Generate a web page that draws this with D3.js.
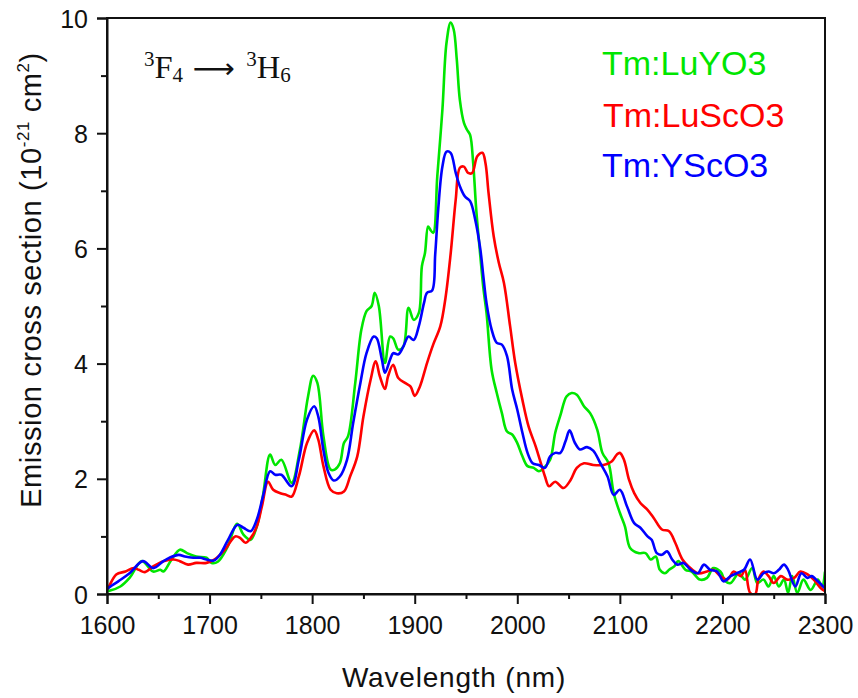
<!DOCTYPE html>
<html><head><meta charset="utf-8">
<script src="https://cdn.jsdelivr.net/npm/d3@7"></script>
<style>html,body{margin:0;padding:0;background:#fff;}</style>
</head><body>
<svg id="chart" width="858" height="698"></svg>
<script>
// ---- data ----
const luyo3X = [1600,1601,1613,1622,1634,1645,1652,1655,1663,1671,1678,1687,1697,1702,1708,1717,1727,1733,1740,1746,1752,1759,1764,1770,1780,1788,1796,1801,1805,1811,1818,1822,1827,1831,1835,1842,1848,1853,1858,1861,1865,1871,1876,1879,1884,1889,1894,1899,1904,1907,1910,1913,1915,1918,1922,1927,1931,1935,1938,1941,1944,1948,1951,1954,1957,1960,1964,1967,1970,1975,1980,1985,1990,1995,2000,2005,2010,2016,2021,2026,2032,2037,2042,2048,2053,2058,2065,2071,2078,2083,2089,2094,2100,2105,2110,2118,2125,2130,2135,2139,2144,2148,2153,2157,2164,2170,2178,2185,2191,2198,2203,2208,2216,2222,2229,2234,2240,2245,2250,2255,2260,2264,2268,2273,2279,2286,2293,2297,2300];
const luyo3Y = [0.05,0.05,0.13,0.28,0.57,0.39,0.42,0.39,0.6,0.77,0.71,0.65,0.63,0.54,0.56,0.8,1.22,1.03,0.94,1.17,1.7,2.42,2.24,2.33,1.93,2.5,3.43,3.79,3.67,2.74,2.16,2.16,2.27,2.62,2.74,3.66,4.59,4.91,5.0,5.23,5.0,4.01,4.47,4.44,4.24,4.3,4.97,4.76,4.88,5.69,5.92,6.38,6.33,6.27,7.25,8.41,9.57,9.92,9.8,9.28,8.58,8.18,8.06,7.97,7.48,6.67,5.86,5.3,4.88,3.89,3.49,3.14,2.82,2.77,2.62,2.39,2.22,2.19,2.13,2.19,2.33,2.8,3.1,3.43,3.49,3.46,3.26,3.14,2.85,2.45,2.27,1.75,1.41,1.17,0.8,0.71,0.71,0.6,0.65,0.42,0.36,0.42,0.48,0.57,0.42,0.39,0.25,0.28,0.45,0.39,0.22,0.19,0.36,0.25,0.45,0.19,0.25,0.13,0.31,0.13,0.25,0.02,0.31,0.02,0.25,0.07,0.25,0.13,0.39];

const luscoX = [1600,1601,1609,1618,1626,1631,1637,1645,1655,1665,1671,1679,1687,1697,1705,1715,1725,1730,1735,1740,1746,1751,1757,1762,1769,1775,1780,1787,1795,1802,1806,1811,1818,1824,1831,1837,1844,1850,1857,1862,1866,1871,1874,1879,1884,1891,1896,1900,1905,1912,1918,1925,1930,1935,1940,1944,1948,1952,1956,1961,1966,1969,1972,1977,1982,1987,1993,1998,2005,2011,2018,2022,2027,2031,2037,2045,2052,2058,2065,2074,2084,2092,2097,2100,2104,2109,2114,2120,2127,2133,2141,2148,2154,2161,2167,2176,2185,2191,2198,2205,2211,2218,2222,2227,2232,2235,2240,2245,2250,2257,2263,2270,2276,2283,2289,2296,2300];
const luscoY = [0.08,0.1,0.34,0.39,0.45,0.42,0.38,0.48,0.57,0.6,0.57,0.51,0.54,0.54,0.6,0.77,1.0,0.97,0.89,0.97,1.17,1.52,1.95,1.81,1.75,1.72,1.69,2.04,2.62,2.84,2.68,2.22,1.81,1.75,1.78,2.04,2.39,3.08,3.72,4.04,3.78,3.56,3.78,3.98,3.75,3.66,3.6,3.44,3.6,4.01,4.33,4.65,5.14,5.9,6.85,7.4,7.42,7.31,7.31,7.6,7.66,7.48,6.96,6.21,5.75,5.4,4.65,4.01,3.37,2.91,2.56,2.33,2.04,1.87,1.95,1.84,1.98,2.19,2.27,2.24,2.24,2.3,2.42,2.45,2.33,1.98,1.75,1.58,1.46,1.32,1.12,1.09,0.89,0.6,0.48,0.36,0.39,0.42,0.31,0.25,0.39,0.31,0.42,0.02,0.0,0.25,0.39,0.31,0.19,0.31,0.25,0.28,0.39,0.34,0.25,0.1,0.05];

const yscoX = [1600,1601,1611,1622,1635,1645,1655,1661,1670,1676,1684,1691,1697,1704,1710,1718,1727,1733,1740,1746,1752,1759,1764,1770,1780,1787,1795,1802,1806,1811,1816,1821,1827,1834,1840,1847,1853,1860,1863,1868,1871,1876,1879,1884,1889,1894,1899,1904,1909,1912,1917,1920,1923,1927,1931,1935,1940,1944,1949,1954,1959,1964,1967,1970,1975,1980,1985,1990,1995,2000,2005,2010,2015,2021,2027,2032,2037,2042,2047,2051,2056,2061,2068,2074,2081,2088,2094,2100,2107,2114,2120,2127,2131,2136,2141,2146,2151,2156,2162,2169,2176,2182,2188,2195,2201,2208,2214,2221,2227,2234,2240,2245,2250,2255,2260,2264,2271,2277,2283,2287,2293,2300];
const yscoY = [0.08,0.1,0.22,0.36,0.57,0.45,0.57,0.63,0.68,0.65,0.63,0.63,0.6,0.58,0.68,0.94,1.2,1.15,1.09,1.29,1.69,2.13,2.07,2.07,1.87,2.33,3.03,3.26,3.08,2.5,2.1,1.97,2.04,2.33,2.97,3.66,4.18,4.47,4.44,4.07,3.84,4.07,4.18,4.16,4.3,4.47,4.41,4.65,5.05,5.23,5.27,5.9,6.7,7.42,7.68,7.66,7.31,7.08,6.9,6.82,6.5,5.98,5.5,5.05,4.59,4.36,4.33,4.13,3.55,3.2,2.8,2.45,2.27,2.24,2.19,2.39,2.45,2.45,2.65,2.84,2.63,2.51,2.55,2.49,2.27,2.04,1.72,1.81,1.52,1.23,1.15,1.0,0.94,0.71,0.68,0.74,0.6,0.51,0.54,0.42,0.36,0.51,0.42,0.39,0.22,0.31,0.36,0.42,0.6,0.25,0.36,0.39,0.36,0.42,0.51,0.42,0.13,0.36,0.28,0.31,0.22,0.1];

const seriesNames = ["Tm:LuYO3","Tm:LuScO3","Tm:YScO3"];
const seriesColors = ["#00e600","#ff0000","#0000ff"];
const xTicks = [1600,1700,1800,1900,2000,2100,2200,2300];
const yTicks = [0,2,4,6,8,10];

// ---- layout ----
const svg = d3.select("#chart");
const L = 107, R = 825, T = 18, B = 594;
const x = d3.scaleLinear().domain([1600,2300]).range([L,R]);
const y = d3.scaleLinear().domain([0,10]).range([B,T]);

svg.append("defs").append("clipPath").attr("id","clip")
  .append("rect").attr("x",L).attr("y",T).attr("width",R-L).attr("height",B-T+1);

const series = [
  {name:seriesNames[0], color:seriesColors[0], xs:luyo3X, ys:luyo3Y},
  {name:seriesNames[1], color:seriesColors[1], xs:luscoX, ys:luscoY},
  {name:seriesNames[2], color:seriesColors[2], xs:yscoX, ys:yscoY}
];
const line = d3.line().x(d=>x(d[0])).y(d=>y(d[1])).curve(d3.curveCatmullRom.alpha(0.5));
const g = svg.append("g").attr("clip-path","url(#clip)");
series.forEach(s=>{
  g.append("path").datum(s.xs.map((v,i)=>[v,s.ys[i]]))
    .attr("fill","none").attr("stroke",s.color).attr("stroke-width",2.6)
    .attr("stroke-linejoin","round").attr("d",line);
});

// frame
svg.append("rect").attr("x",L).attr("y",T).attr("width",R-L).attr("height",B-T)
  .attr("fill","none").attr("stroke","#111").attr("stroke-width",2);

// axes
const fontSans = "'Liberation Sans', Arial, sans-serif";
svg.append("g").attr("transform",`translate(0,${B})`)
  .call(d3.axisBottom(x).tickValues(xTicks).tickSize(10).tickPadding(12).tickFormat(d3.format("d")));
svg.append("g").attr("transform",`translate(0,${B})`)
  .call(d3.axisBottom(x).tickValues(d3.range(1650,2300,100)).tickSize(5).tickFormat(""))
  .select(".domain").remove();
const yAxis = svg.append("g").attr("transform",`translate(${L},0)`)
  .call(d3.axisLeft(y).tickValues(yTicks).tickSize(10).tickPadding(9).tickFormat(d3.format("d")));
svg.append("g").attr("transform",`translate(${L},0)`)
  .call(d3.axisLeft(y).tickValues([1,3,5,7,9]).tickSize(6).tickFormat(""))
  .select(".domain").remove();
svg.selectAll(".domain").attr("stroke","#111").attr("stroke-width",2);
svg.selectAll(".tick line").attr("stroke","#111").attr("stroke-width",2);
svg.selectAll(".tick text").attr("font-family",fontSans).attr("font-size",25).attr("fill","#111");
yAxis.selectAll(".tick text").attr("dy","0.36em");

// axis titles
svg.append("text").attr("x",454).attr("y",687).attr("text-anchor","middle")
  .attr("font-family",fontSans).attr("font-size",28).attr("letter-spacing",0.8).attr("fill","#111")
  .text("Wavelength (nm)");
const yt = svg.append("text").attr("transform","translate(41,280) rotate(-90)").attr("text-anchor","middle")
  .attr("font-family",fontSans).attr("font-size",29).attr("letter-spacing",0.6).attr("fill","#111");
yt.append("tspan").text("Emission cross section (10");
yt.append("tspan").attr("font-size",17).attr("dy",-12).text("-21");
yt.append("tspan").attr("dy",12).text(" cm");
yt.append("tspan").attr("font-size",17).attr("dy",-12).text("2");
yt.append("tspan").attr("dy",12).text(")");

// legend
const legY = [75,127,177];
const legX = [602,603,602];
series.forEach((s,i)=>{
  svg.append("text").attr("x",legX[i]).attr("y",legY[i]).attr("font-family",fontSans)
    .attr("font-size",34).attr("fill",s.color).text(s.name);
});

// annotation
const fontSerif = "'Liberation Serif','Times New Roman',serif";
const ann = svg.append("g").attr("transform","translate(144,78) scale(1.05,1)");
const at = ann.append("text").attr("x",0).attr("y",0).attr("font-family",fontSerif).attr("font-size",31).attr("fill","#111");
at.append("tspan").attr("font-size",20).attr("dy",-12).text("3");
at.append("tspan").attr("dy",12).text("F");
at.append("tspan").attr("font-size",20).attr("dy",4).text("4");
at.append("tspan").attr("dy",-4).attr("dx",9).attr("font-family","'DejaVu Sans',sans-serif").attr("font-size",28).text("\u27F6");
at.append("tspan").attr("font-size",20).attr("dx",11).attr("dy",-12).text("3");
at.append("tspan").attr("dy",12).text("H");
at.append("tspan").attr("font-size",20).attr("dy",4).text("6");
</script>
</body></html>
